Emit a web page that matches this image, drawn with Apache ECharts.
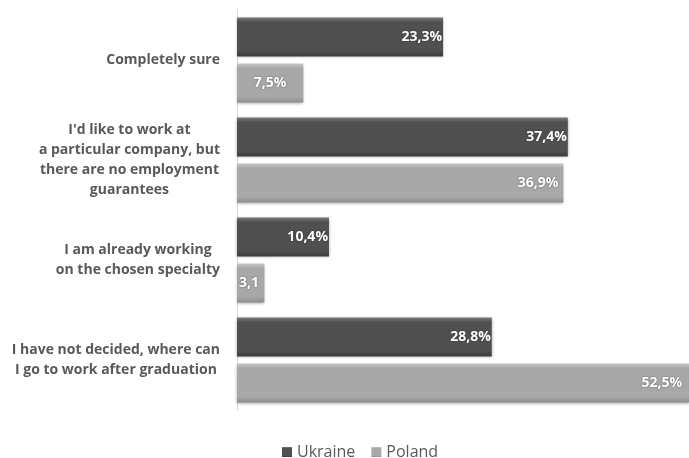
<!DOCTYPE html>
<html><head><meta charset="utf-8">
<script src="https://cdn.jsdelivr.net/npm/echarts@6/dist/echarts.min.js"></script>
<style>html,body{margin:0;padding:0;background:#fff}#c{width:689px;height:458px}</style>
</head><body><div id="c"></div>
<script>
var categories = [
  "Completely sure",
  "I'd like to work at\na particular company, but\nthere are no employment\nguarantees",
  "I am already working\non the chosen specialty",
  "I have not decided, where can\nI go to work after graduation"
];
var ukraine = [23.3, 37.4, 10.4, 28.8];
var poland = [7.5, 36.9, 3.1, 52.5];
var seriesNames = ["Ukraine", "Poland"];

function grad(top, mid, bot) {
  return new echarts.graphic.LinearGradient(0, 0, 0, 1, [
    {offset: 0, color: top}, {offset: 0.12, color: mid}, {offset: 0.85, color: mid}, {offset: 1, color: bot}
  ]);
}
var fmt = function (p) { return p.value.toFixed(1).replace('.', ',') + '%'; };
var labelStyle = {
  show: true, position: 'insideRight', distance: 1, color: '#fff', fontWeight: 'bold',
  fontSize: 14, fontFamily: '"Open Sans", sans-serif', formatter: fmt,
  textShadowColor: 'rgba(0,0,0,0.45)', textShadowBlur: 2
};
var polandData = poland.map(function (v, i) {
  var d = {value: v};
  if (i === 0) d.label = {position: 'inside'};
  if (i === 1) d.label = {distance: 5};
  if (i === 2) d.label = {position: 'insideLeft', distance: 2, width: 30, overflow: 'truncate', ellipsis: ''};
  if (i === 3) d.label = {distance: 7};
  return d;
});
var chart = echarts.init(document.getElementById('c'));
chart.setOption({
  animation: false,
  grid: {left: 237, right: 0, top: 10, bottom: 48},
  xAxis: {type: 'value', min: 0, max: 51.1, show: false},
  yAxis: {
    type: 'category', data: categories, inverse: true,
    axisLine: {show: true, lineStyle: {color: '#d9d9d9', width: 1}},
    axisTick: {show: false},
    axisLabel: {
      margin: 17, align: 'right',
      formatter: function (v) { return '{a|' + v.split('\n').join('}\n{a|') + '}'; },
      rich: {a: {align: 'center', color: '#595959', fontWeight: 'bold', fontSize: 14,
        fontFamily: '"Open Sans", sans-serif', lineHeight: 20}}
    }
  },
  legend: {
    top: 439, left: 277, itemWidth: 10, itemHeight: 10, itemGap: 16, icon: 'rect',
    textStyle: {color: '#595959', fontSize: 16, fontFamily: '"Open Sans", sans-serif'},
    data: seriesNames
  },
  series: [
    {name: seriesNames[0], type: 'bar', data: ukraine, barWidth: 39, barGap: '18%', clip: true,
      itemStyle: {color: grad('#7a7a7a', '#505050', '#3c3c3c'), shadowColor: 'rgba(0,0,0,0.35)', shadowBlur: 3, shadowOffsetY: 1},
      label: labelStyle},
    {name: seriesNames[1], type: 'bar', data: polandData, barWidth: 39, clip: true,
      itemStyle: {color: grad('#c8c8c8', '#a8a8a8', '#8e8e8e'), shadowColor: 'rgba(0,0,0,0.35)', shadowBlur: 3, shadowOffsetY: 1},
      label: labelStyle}
  ]
});
</script></body></html>
